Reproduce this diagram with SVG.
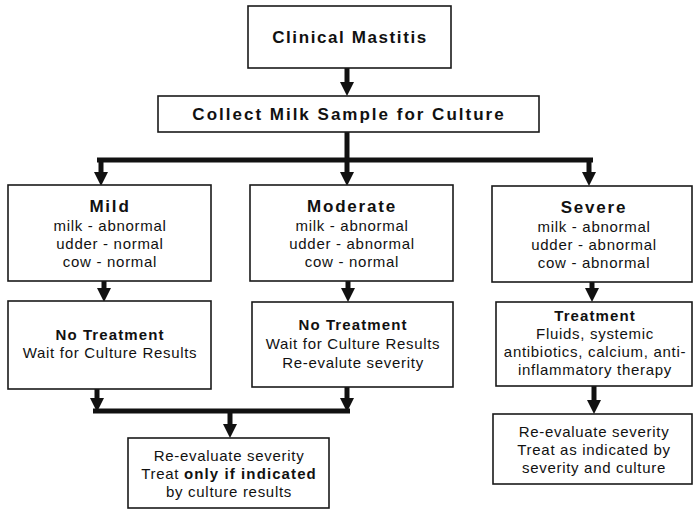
<svg xmlns="http://www.w3.org/2000/svg" width="693" height="511" viewBox="0 0 693 511">
<style>
.box{fill:#fff;stroke:#1a1a1a;stroke-width:1.6}
text{font-family:"Liberation Sans",Arial,sans-serif;fill:#111;text-anchor:middle}
.t1{font-size:17px;font-weight:bold;letter-spacing:1.8px}
.t2{font-size:15px;font-weight:bold;letter-spacing:1.1px}
.t3{font-size:15px;letter-spacing:0.7px}
.b{font-weight:bold;letter-spacing:1.1px}
.ln{stroke:#111;stroke-width:5;fill:none}
.ar{stroke:#111;stroke-width:5;fill:none;marker-end:url(#ah)}
</style>
<defs>
<marker id="ah" markerUnits="userSpaceOnUse" markerWidth="14" markerHeight="14" refX="0" refY="7" orient="auto">
<path d="M0,0 L14,7 L0,14 z" fill="#111"/>
</marker>
</defs>
<rect width="693" height="511" fill="#fff"/>
<g id="connectors">
<line class="ar" x1="347" y1="68" x2="347" y2="82"/>
<line class="ln" x1="347" y1="132" x2="347" y2="160"/>
<line class="ln" x1="97" y1="160" x2="593" y2="160"/>
<line class="ar" x1="101" y1="160" x2="101" y2="172"/>
<line class="ar" x1="347" y1="160" x2="347" y2="172"/>
<line class="ar" x1="589" y1="160" x2="589" y2="172"/>
<line class="ar" x1="104" y1="281" x2="104" y2="288"/>
<line class="ar" x1="348" y1="281" x2="348" y2="288"/>
<line class="ar" x1="592" y1="282" x2="592" y2="288"/>
<line class="ar" x1="97" y1="389" x2="97" y2="398"/>
<line class="ar" x1="347" y1="387" x2="347" y2="398"/>
<line class="ln" x1="93" y1="411" x2="350" y2="411"/>
<line class="ar" x1="230" y1="411" x2="230" y2="424"/>
<line class="ar" x1="594" y1="386" x2="594" y2="400"/>
</g>
<g id="clinical">
<rect class="box" x="248" y="6" width="203" height="62"/>
<text class="t1" x="350" y="43" style="letter-spacing:1.6px">Clinical Mastitis</text>
</g>
<g id="collect">
<rect class="box" x="158" y="96" width="381" height="36"/>
<text class="t1" x="349" y="120" style="letter-spacing:2px">Collect Milk Sample for Culture</text>
</g>
<g id="mild">
<rect class="box" x="8" y="185" width="203" height="96"/>
<text class="t1" x="110" y="212">Mild</text>
<text class="t3" x="110" y="231">milk - abnormal</text>
<text class="t3" x="110" y="249">udder - normal</text>
<text class="t3" x="110" y="267">cow - normal</text>
</g>
<g id="moderate">
<rect class="box" x="250" y="185" width="203" height="96"/>
<text class="t1" x="352" y="212">Moderate</text>
<text class="t3" x="352" y="231">milk - abnormal</text>
<text class="t3" x="352" y="249">udder - abnormal</text>
<text class="t3" x="352" y="267">cow - normal</text>
</g>
<g id="severe">
<rect class="box" x="492" y="186" width="200" height="96"/>
<text class="t1" x="594" y="213">Severe</text>
<text class="t3" x="594" y="232">milk - abnormal</text>
<text class="t3" x="594" y="250">udder - abnormal</text>
<text class="t3" x="594" y="268">cow - abnormal</text>
</g>
<g id="mild-action">
<rect class="box" x="8" y="301" width="203" height="88"/>
<text class="t2" x="110" y="340">No Treatment</text>
<text class="t3" x="110" y="358">Wait for Culture Results</text>
</g>
<g id="moderate-action">
<rect class="box" x="252" y="302" width="201" height="85"/>
<text class="t2" x="353" y="330">No Treatment</text>
<text class="t3" x="353" y="349">Wait for Culture Results</text>
<text class="t3" x="353" y="368">Re-evalute severity</text>
</g>
<g id="severe-treatment">
<rect class="box" x="496" y="302" width="196" height="84"/>
<text class="t2" x="595" y="321">Treatment</text>
<text class="t3" x="595" y="339">Fluids, systemic</text>
<text class="t3" x="595" y="357">antibiotics, calcium, anti-</text>
<text class="t3" x="595" y="375">inflammatory therapy</text>
</g>
<g id="reevaluate-mild-moderate">
<rect class="box" x="128" y="438" width="201" height="70"/>
<text class="t3" x="229" y="461">Re-evaluate severity</text>
<text class="t3" x="229" y="479">Treat <tspan class="b">only if indicated</tspan></text>
<text class="t3" x="229" y="497">by culture results</text>
</g>
<g id="reevaluate-severe">
<rect class="box" x="493" y="414" width="199" height="70"/>
<text class="t3" x="594" y="437">Re-evaluate severity</text>
<text class="t3" x="594" y="455">Treat as indicated by</text>
<text class="t3" x="594" y="473">severity and culture</text>
</g>
</svg>
